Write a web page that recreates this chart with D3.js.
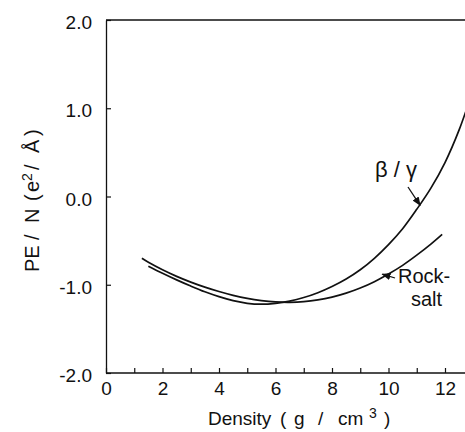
<!DOCTYPE html>
<html><head><meta charset="utf-8">
<script src="https://cdn.jsdelivr.net/npm/d3@7"></script>
<style>
html,body{margin:0;padding:0;background:#fff;}
svg{display:block;font-family:"Liberation Sans",Arial,sans-serif;}
</style></head>
<body><svg id="chart" width="465" height="432"></svg>
<script>
// Data
const betaDensity = [1.5, 2.0, 2.5, 3.0, 3.5, 4.0, 4.5, 5.0, 5.5, 6.0, 6.5, 7.0, 7.5, 8.0, 8.5, 9.0, 9.5, 10.0, 10.5, 11.0, 11.5, 12.0, 12.5, 13.0];
const betaPE      = [-0.79, -0.87, -0.945, -1.015, -1.08, -1.135, -1.18, -1.21, -1.22, -1.21, -1.185, -1.145, -1.09, -1.02, -0.935, -0.83, -0.70, -0.545, -0.365, -0.145, 0.095, 0.385, 0.755, 1.215];
const rockDensity = [1.27, 1.5, 2.0, 2.5, 3.0, 3.5, 4.0, 4.5, 5.0, 5.5, 6.0, 6.5, 7.0, 7.5, 8.0, 8.5, 9.0, 9.5, 10.0, 10.5, 11.0, 11.5, 11.9];
const rockPE      = [-0.70, -0.745, -0.83, -0.905, -0.97, -1.027, -1.077, -1.12, -1.155, -1.18, -1.195, -1.199, -1.192, -1.172, -1.14, -1.095, -1.037, -0.965, -0.878, -0.78, -0.665, -0.54, -0.43];
const xTicks = [0, 2, 4, 6, 8, 10, 12];
const xMinorTicks = [1, 3, 5, 7, 9, 11];
const yTicks = [-2, -1, 0, 1, 2];
const yTickLabels = ["-2.0", "-1.0", "0.0", "1.0", "2.0"];

const svg = d3.select("#chart");
const x = d3.scaleLinear().domain([0, 12]).range([106, 445]);
const y = d3.scaleLinear().domain([-2, 2]).range([373, 20]);

const ink = "#111";
const font = "Liberation Sans, Arial, sans-serif";

// top frame line
svg.append("line").attr("x1", x(0)).attr("x2", 465).attr("y1", y(2)).attr("y2", y(2))
  .attr("stroke", ink).attr("stroke-width", 1.3);

// x axis
const xAxis = d3.axisBottom(x).tickValues(xTicks).tickSizeInner(-5).tickSizeOuter(0).tickPadding(9)
  .tickFormat(d3.format("d"));
const gx = svg.append("g").attr("transform", `translate(0,${y(-2)})`).call(xAxis);
gx.select(".domain").attr("d", `M${x(0)},0H465`).attr("stroke", ink).attr("stroke-width", 1.3);
gx.selectAll(".tick line").attr("stroke", ink).attr("stroke-width", 1.2);
gx.selectAll(".tick text").attr("font-size", 19).attr("fill", ink).attr("font-family", font);
const gxm = svg.append("g").attr("transform", `translate(0,${y(-2)})`)
  .call(d3.axisBottom(x).tickValues(xMinorTicks).tickSizeInner(-5).tickSizeOuter(0).tickFormat(""));
gxm.select(".domain").remove();
gxm.selectAll(".tick line").attr("stroke", ink).attr("stroke-width", 1.2);

// y axis
const yAxis = d3.axisLeft(y).tickValues(yTicks).tickSizeInner(-5).tickSizeOuter(0).tickPadding(14)
  .tickFormat((d, i) => yTickLabels[i]);
const gy = svg.append("g").attr("transform", `translate(${x(0)},0)`).call(yAxis);
gy.select(".domain").attr("stroke", ink).attr("stroke-width", 1.3);
gy.selectAll(".tick line").attr("stroke", ink).attr("stroke-width", 1.2);
gy.selectAll(".tick text").attr("font-size", 19).attr("fill", ink).attr("font-family", font).attr("dy", "0.45em");

// curves
svg.append("clipPath").attr("id", "plotclip").append("rect")
  .attr("x", x(0)).attr("y", y(2)).attr("width", 465 - x(0)).attr("height", y(-2) - y(2));
const line = d3.line().x(d => x(d[0])).y(d => y(d[1])).curve(d3.curveCatmullRom.alpha(0.5));
svg.append("path").datum(betaDensity.map((d, i) => [d, betaPE[i]]))
  .attr("d", line).attr("fill", "none").attr("stroke", ink).attr("stroke-width", 1.7)
  .attr("clip-path", "url(#plotclip)");
svg.append("path").datum(rockDensity.map((d, i) => [d, rockPE[i]]))
  .attr("d", line).attr("fill", "none").attr("stroke", ink).attr("stroke-width", 1.7)
  .attr("clip-path", "url(#plotclip)");

// annotations
svg.append("defs").append("marker").attr("id", "ah").attr("viewBox", "0 0 10 10")
  .attr("refX", 9).attr("refY", 5).attr("markerWidth", 7).attr("markerHeight", 7).attr("orient", "auto")
  .append("path").attr("d", "M0,1 L10,5 L0,9 Z").attr("fill", ink);

svg.append("text").attr("x", 396).attr("y", 177).attr("text-anchor", "middle")
  .attr("font-size", 22).attr("fill", ink).text("β / γ");
svg.append("line").attr("x1", 408).attr("y1", 187).attr("x2", x(11.12)).attr("y2", y(-0.1))
  .attr("stroke", ink).attr("stroke-width", 1.3).attr("marker-end", "url(#ah)");

svg.append("text").attr("x", 398).attr("y", 283).attr("font-size", 20).attr("fill", ink).text("Rock-");
svg.append("text").attr("x", 411).attr("y", 306).attr("font-size", 20).attr("fill", ink).text("salt");
svg.append("line").attr("x1", 395).attr("y1", 278).attr("x2", x(9.78)).attr("y2", y(-0.88))
  .attr("stroke", ink).attr("stroke-width", 1.3).attr("marker-end", "url(#ah)");

// x axis title
const xt = svg.append("text").attr("y", 425).attr("font-size", 19).attr("fill", ink);
xt.append("tspan").attr("x", 208).text("Density");
xt.append("tspan").attr("x", 280).text("(");
xt.append("tspan").attr("x", 294).text("g");
xt.append("tspan").attr("x", 318).text("/");
xt.append("tspan").attr("x", 338).text("cm");
xt.append("tspan").attr("x", 369).attr("dy", -7).attr("font-size", 14).text("3");
xt.append("tspan").attr("x", 384).attr("dy", 7).text(")");

// y axis title (rotated; positions along the text run)
const yt = svg.append("text").attr("transform", "translate(39,0) rotate(-90)")
  .attr("font-size", 20).attr("fill", ink);
yt.append("tspan").attr("x", -272).text("PE");
yt.append("tspan").attr("x", -240).text("/");
yt.append("tspan").attr("x", -223).text("N");
yt.append("tspan").attr("x", -201).text("(");
yt.append("tspan").attr("x", -192).text("e");
yt.append("tspan").attr("dy", -7).attr("font-size", 14).text("2");
yt.append("tspan").attr("dy", 7).attr("x", -170).text("/");
yt.append("tspan").attr("x", -153).text("Å");
yt.append("tspan").attr("x", -136).text(")");
</script></body></html>
